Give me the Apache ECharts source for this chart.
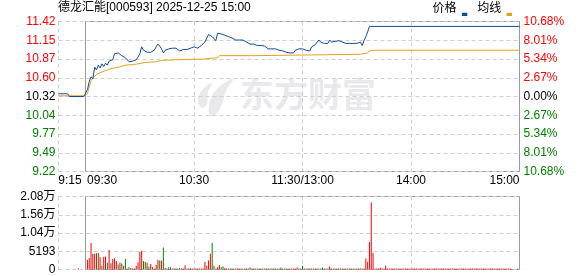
<!DOCTYPE html>
<html><head><meta charset="utf-8">
<script src="https://cdn.jsdelivr.net/npm/echarts@6/dist/echarts.min.js"></script>
<style>html,body{margin:0;padding:0;background:#fff}#c{width:578px;height:276px}</style>
</head><body><div id="c"></div>
<script>
// ---------- data ----------
const chartTitle = '德龙汇能[000593] 2025-12-25 15:00';
const legendNames = ['价格', '均线'];
const prevClose = 10.32;

// x tick labels
const xTickTimes = ['09:15', '09:30', '10:30', '11:30', '14:00', '15:00'];
const xTickTexts = ['9:15', '09:30', '10:30', '11:30/13:00', '14:00', '15:00'];
const xSplitTimes = ['09:15', '10:30', '11:30', '14:00'];

// pre-market (call auction) price / average
const preTimes = ['09:15', '09:20', '09:21', '09:29'];
const prePrices = [10.36, 10.36, 10.32, 10.32];
const preAvgTimes = ['09:15', '09:29'];
const preAvgValues = [10.33, 10.33];

// continuous session price, one per minute from 09:30 until limit-up (13:37)
const sessionPrices = [
  10.32,10.42,10.54,10.61,10.58,10.75,10.71,10.78,10.74,10.80,
  10.76,10.81,10.78,10.84,10.83,10.86,10.95,10.95,10.96,10.95,
  10.92,10.92,10.89,10.86,10.83,10.83,10.84,10.85,10.86,10.90,
  10.95,11.05,11.00,11.01,10.97,10.95,10.97,10.99,11.00,11.05,
  11.09,11.06,11.02,10.96,11.00,11.02,11.02,11.02,11.03,11.03,
  11.03,11.02,10.99,10.98,11.01,11.01,11.01,11.02,11.03,11.04,
  11.05,11.04,11.03,11.03,11.07,11.09,11.12,11.12,11.23,11.21,
  11.20,11.17,11.14,11.25,11.24,11.24,11.22,11.22,11.21,11.20,
  11.19,11.18,11.17,11.15,11.15,11.15,11.15,11.15,11.14,11.12,
  11.10,11.09,11.07,11.09,11.08,11.07,11.09,11.07,11.07,11.06,
  11.04,11.02,11.02,11.02,11.02,11.02,11.01,11.00,11.00,10.99,
  10.99,10.97,10.96,10.96,10.96,10.96,11.00,11.02,11.02,11.02,
  11.02,11.00,11.00,11.00,10.99,11.05,11.06,11.08,11.10,11.15,
  11.12,11.11,11.10,11.12,11.10,11.15,11.12,11.13,11.13,11.15,
  11.14,11.13,11.12,11.11,11.10,11.10,11.10,11.10,11.10,11.10,
  11.10,11.10,11.12,11.07,11.14,11.20,11.27,11.35
];
const closeTime = '15:00';
const closePrice = 11.35;

// average price line (points where it changes)
const avgTimes = ['09:30','09:31','09:32','09:33','09:34','09:35','09:36','09:38','09:41','09:44','09:46','09:48','09:52','09:56','09:59','10:03','10:09','10:12','10:20','10:35','10:36','10:43','10:44','11:03','11:04','13:32','13:33','13:36','13:37','13:40','15:00'];
const avgValues = [10.32,10.36,10.46,10.55,10.59,10.61,10.64,10.67,10.70,10.73,10.74,10.75,10.78,10.79,10.80,10.82,10.83,10.85,10.86,10.87,10.89,10.89,10.92,10.92,10.94,10.94,10.95,10.96,10.99,11.00,11.00];

// volume: call auction + one bar per minute from 09:30 to 15:00
const auctionTime = '09:26';
const auctionVolume = 350;
const sessionVolumes = [
  0,2700,3300,7550,4450,4450,4600,4700,3500,1050,
  3600,3700,1900,5550,1800,3000,3200,2450,1400,2000,
  1700,1050,3000,300,650,400,250,300,1050,2050,
  5000,5300,2450,2150,1900,850,1600,650,300,1300,
  2750,2550,2550,6250,400,250,650,650,280,280,
  280,280,450,280,300,1200,280,280,350,280,
  280,300,280,300,280,280,2150,1050,2550,4450,
  7550,1050,300,650,1300,650,850,450,300,280,
  280,300,280,260,280,300,280,260,300,280,
  280,600,300,280,260,280,300,280,260,280,
  300,280,260,280,300,280,260,300,550,280,
  280,260,300,280,280,300,260,550,300,280,
  1050,300,280,260,300,280,260,300,280,280,
  260,600,280,300,300,850,280,260,300,280,
  280,300,260,280,300,280,260,280,300,280,
  260,300,300,300,320,3100,2150,7800,19150,4700,
  300,300,280,500,300,280,1050,280,260,280,
  280,300,260,280,280,300,260,280,300,280,
  260,280,300,280,260,280,300,280,280,260,
  300,280,260,280,300,280,280,260,300,280,
  280,260,300,280,280,300,260,280,300,280,
  260,280,300,280,260,280,300,280,280,260,
  300,280,260,280,300,280,280,260,300,280,
  280,260,300,280,280,300,0,0,0,300,
  0
];
// r = up (red), g = down (green), - = none
const sessionVolColors =
  '-rrrrrgrrg' + 'rrgrrrrrgr' + 'grgrgrgrrr' + 'rrggrgrrgr' + 'rgrgrrgggr' +
  'rggrrrrrrg' + 'rrrrrrrrrr' + 'ggrrrggrrg' + 'grgrrrrggr' + 'rgrrgrgrgr' +
  'rggrrgrggr' + 'ggrrgrrrrg' + 'ggrgrrgrrg' + 'ggrgrrrgrg' + 'rrggrgrgrg' +
  'grrgrrrrrr' + 'rrrrrrrrrr' + 'rrrrrrrrrr' + 'rrrrrrrrrr' + 'rrrrrrrrrr' +
  'rrrrrrrrrr' + 'rrrrrrrrrr' + 'rrrrrrrrrr' + 'rrrrrr---r' + '-';

// volume axis ticks
const volMax = 20772;
const volStep = 5193;

// ---------- build ----------
const categories = [];
function pushRange(a, b) {
  for (let t = a; t <= b; t++) {
    categories.push(String(Math.floor(t / 60)).padStart(2, '0') + ':' + String(t % 60).padStart(2, '0'));
  }
}
pushRange(9 * 60 + 15, 11 * 60 + 30);
pushRange(13 * 60 + 1, 15 * 60);
const idx = t => categories.indexOf(t);
const startIdx = idx('09:30');
const toPct = p => (p - prevClose) / prevClose * 100;

const priceData = [];
preTimes.forEach((t, i) => priceData.push([idx(t), toPct(prePrices[i])]));
sessionPrices.forEach((p, i) => priceData.push([startIdx + i, toPct(p)]));
priceData.push([idx(closeTime), toPct(closePrice)]);

const avgData = [];
preAvgTimes.forEach((t, i) => avgData.push([idx(t), toPct(preAvgValues[i])]));
avgTimes.forEach((t, i) => avgData.push([idx(t), toPct(avgValues[i])]));

const UP = '#ff0000', DOWN = '#008000';
const volData = categories.map(() => '-');
volData[idx(auctionTime)] = { value: auctionVolume, itemStyle: { color: UP } };
sessionVolumes.forEach((v, i) => {
  const c = sessionVolColors[i];
  if (c === '-' || !v) return;
  volData[startIdx + i] = { value: v, itemStyle: { color: c === 'r' ? UP : DOWN } };
});

const FONT = '"Liberation Sans", "Noto Sans CJK SC", sans-serif';
const GRID_COLOR = '#cfcfcf';
const FRAME_COLOR = '#9a9a9a';
const dash = { color: GRID_COLOR, type: [4, 3], width: 1 };

const xLabelRich = {
  a: { padding: [0, 0, 0, 23], fontSize: 12, fontFamily: FONT, color: '#000' },
  b: { padding: [0, 0, 0, 33], fontSize: 12, fontFamily: FONT, color: '#000' },
  c: { fontSize: 12, fontFamily: FONT, color: '#000' },
  d: { padding: [0, 30, 0, 0], fontSize: 12, fontFamily: FONT, color: '#000' }
};

function xAxisFor(gi, showLabel) {
  return {
    type: 'category', gridIndex: gi, data: categories, boundaryGap: false,
    axisLine: { show: false }, axisTick: { show: false },
    splitLine: { show: true, interval: (i, v) => xSplitTimes.includes(v), lineStyle: dash },
    axisLabel: {
      show: showLabel, margin: 3,
      interval: (i, v) => xTickTimes.includes(v),
      formatter: (v) => {
        const k = xTickTimes.indexOf(v);
        if (k < 0) return '';
        const style = k === 0 ? 'a' : (k === 1 ? 'b' : (k === xTickTimes.length - 1 ? 'd' : 'c'));
        return '{' + style + '|' + xTickTexts[k] + '}';
      },
      rich: xLabelRich
    }
  };
}

const pctColor = v => { v = parseFloat(v); return v > 1e-6 ? UP : (v < -1e-6 ? DOWN : '#000'); };
const WM = '#e9e9ed';

const option = {
  animation: false,
  backgroundColor: '#fff',
  title: {
    text: chartTitle, left: 58, top: 2, padding: 0,
    textStyle: { fontSize: 12, fontWeight: 'normal', color: '#000', fontFamily: FONT }
  },
  legend: {
    data: legendNames, right: 66, top: 2, padding: 0, itemGap: 10, align: 'right',
    itemWidth: 6, itemHeight: 14,
    icon: 'path://M0,0M0,10L5,10L5,13L0,13Z',
    textStyle: { fontSize: 12, color: '#000', fontFamily: FONT }
  },
  graphic: [
    { type: 'text', x: 240, y: 77, z: -10, silent: true,
      style: { text: '东方财富', font: 'bold 34px "Noto Sans CJK SC"', fill: WM } },
    { type: 'polygon', z: -10, silent: true,
      shape: { points: [[198,100],[202,90],[212,83],[208,92],[207,104],[202,108]], smooth: 0.4 },
      style: { fill: WM } },
    { type: 'polygon', z: -10, silent: true,
      shape: { points: [[210,116],[210,101],[218,88],[233,79],[226,91],[222,104],[217,113]], smooth: 0.4 },
      style: { fill: WM } }
  ],
  grid: [
    { left: 58.5, right: 58.5, top: 21.5, height: 150 },
    { left: 58.5, right: 58.5, top: 196.5, height: 73 },
    { show: true, left: 85.5, right: 58.5, top: 21.5, height: 150, borderColor: FRAME_COLOR, borderWidth: 1, backgroundColor: 'transparent' },
    { show: true, left: 85.5, right: 58.5, top: 196.5, height: 73, borderColor: FRAME_COLOR, borderWidth: 1, backgroundColor: 'transparent' }
  ],
  xAxis: [xAxisFor(0, true), xAxisFor(1, false)],
  yAxis: [
    { type: 'value', gridIndex: 0, position: 'left', min: -10.68, max: 10.68, interval: 2.67,
      axisLine: { show: false }, axisTick: { show: false },
      splitLine: { show: true, lineStyle: dash },
      axisLabel: { margin: 3, fontSize: 12, fontFamily: FONT, color: pctColor,
        formatter: v => (prevClose * (1 + v / 100)).toFixed(2) } },
    { type: 'value', gridIndex: 0, position: 'right', min: -10.68, max: 10.68, interval: 2.67,
      axisLine: { show: false }, axisTick: { show: false }, splitLine: { show: false },
      axisLabel: { margin: 4, fontSize: 12, fontFamily: FONT, color: pctColor,
        formatter: v => Math.abs(v).toFixed(2) + '%' } },
    { type: 'value', gridIndex: 1, position: 'left', min: 0, max: volMax, interval: volStep,
      axisLine: { show: false }, axisTick: { show: false },
      splitLine: { show: true, lineStyle: dash },
      axisLabel: { margin: 3, fontSize: 12, fontFamily: FONT, color: '#000',
        formatter: v => v === 0 ? '0' : (v < 10000 ? String(v) : (v / 10000).toFixed(2) + '万') } }
  ],
  series: [
    { name: legendNames[0], type: 'line', xAxisIndex: 0, yAxisIndex: 0, data: priceData,
      showSymbol: false, color: '#0f4c9c', lineStyle: { width: 1, color: '#0f4c9c' }, z: 4 },
    { name: legendNames[1], type: 'line', xAxisIndex: 0, yAxisIndex: 0, data: avgData,
      showSymbol: false, color: '#e2a11f', lineStyle: { width: 1, color: '#e2a11f' }, z: 3 },
    { name: '成交量', type: 'bar', xAxisIndex: 1, yAxisIndex: 2, data: volData, barWidth: 1 }
  ]
};

const chart = echarts.init(document.getElementById('c'), null, { renderer: 'canvas' });
chart.setOption(option);
</script></body></html>
